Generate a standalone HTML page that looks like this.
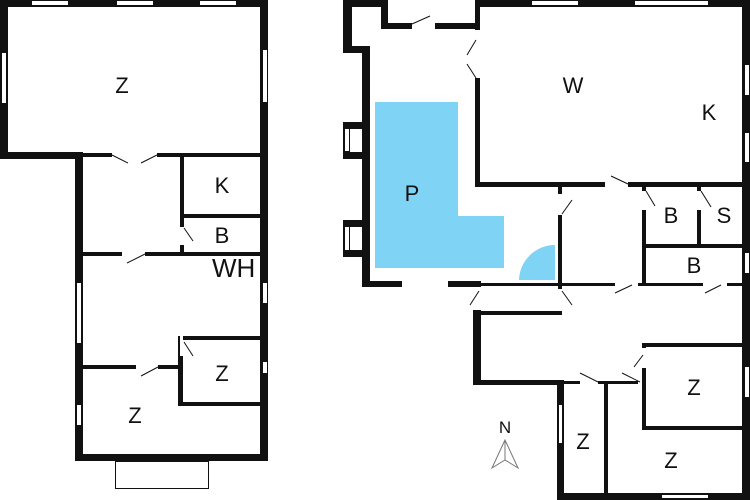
<!DOCTYPE html>
<html><head><style>body{margin:0;background:#fff}svg{display:block}text{font-family:"Liberation Sans",sans-serif;fill:#111}</style></head><body>
<svg width="750" height="500" viewBox="0 0 750 500" xmlns="http://www.w3.org/2000/svg">
<rect width="750" height="500" fill="#fff"/>
<g font-size="26">
<text x="212" y="277">WH</text>
</g>
<g fill="#111">
<!-- LEFT PLAN -->
<rect x="0" y="0" width="268" height="7"/>
<rect x="0" y="0" width="8" height="158"/>
<rect x="0" y="152" width="82" height="7"/>
<rect x="260" y="0" width="8" height="461"/>
<rect x="268" y="0" width="20" height="300" fill="#fff"/>
<rect x="75" y="152" width="8" height="309"/>
<rect x="75" y="454" width="193" height="7"/>
<rect x="82" y="153" width="30" height="4"/><rect x="157" y="153" width="104" height="4"/>
<rect x="180" y="155" width="4" height="72"/><rect x="180" y="245" width="4" height="10"/>
<rect x="183" y="214" width="78" height="4"/>
<rect x="82" y="252" width="40" height="4"/><rect x="145" y="252" width="116" height="4"/>
<rect x="178" y="336" width="5" height="70"/>
<rect x="180" y="336" width="81" height="4"/>
<rect x="180" y="402" width="81" height="4"/>
<rect x="82" y="365" width="54" height="4"/><rect x="158" y="365" width="22" height="4"/>
</g>
<g fill="#fff">
<rect x="32" y="1" width="36" height="4"/><rect x="117" y="1" width="36" height="4"/><rect x="200" y="1" width="36" height="4"/>
<rect x="2" y="53" width="4" height="50"/><rect x="263" y="50" width="4" height="52"/>
<rect x="77" y="283" width="4" height="60"/><rect x="263" y="283" width="4" height="20"/>
<rect x="263" y="362" width="4" height="11"/><rect x="77" y="405" width="4" height="20"/>
<rect x="180" y="336" width="3" height="20"/>
</g>
<g stroke="#111" stroke-width="1" fill="none">
<line x1="112" y1="155" x2="128" y2="163"/><line x1="157" y1="155" x2="141" y2="163"/>
<line x1="184" y1="228" x2="193" y2="241"/><line x1="145" y1="254" x2="127" y2="263"/>
<line x1="184" y1="342" x2="193" y2="356"/><line x1="158" y1="367" x2="141" y2="376"/>
<rect x="115.5" y="461.5" width="93" height="27"/>
</g>
<g font-size="22" text-anchor="middle">
<text x="122" y="93">Z</text><text x="222" y="193">K</text><text x="222" y="243">B</text>
<text x="222" y="381">Z</text><text x="135" y="423">Z</text>
</g>
<!-- RIGHT PLAN -->
<path d="M375 102H458V216H504V268H375Z" fill="#7fd3f5"/>
<path d="M555 280V245A36 36 0 0 0 519 280Z" fill="#7fd3f5"/>
<g fill="#111">
<rect x="343" y="0" width="45" height="7"/>
<rect x="343" y="0" width="9" height="52"/>
<rect x="343" y="46" width="27" height="7"/>
<rect x="362" y="46" width="8" height="241"/>
<rect x="343" y="122" width="27" height="7"/><rect x="343" y="122" width="7" height="36"/><rect x="343" y="152" width="27" height="7"/>
<rect x="343" y="220" width="27" height="7"/><rect x="343" y="220" width="7" height="37"/><rect x="343" y="250" width="27" height="7"/>
<rect x="381" y="0" width="7" height="29"/>
<rect x="381" y="23" width="31" height="6"/><rect x="435" y="23" width="45" height="6"/>
<rect x="475" y="0" width="275" height="7"/>
<rect x="475" y="0" width="5" height="30"/><rect x="475" y="78" width="5" height="108"/>
<rect x="742" y="0" width="8" height="500"/>
<rect x="475" y="182" width="130" height="5"/><rect x="628" y="182" width="115" height="5"/>
<rect x="362" y="281" width="40" height="6"/><rect x="448" y="281" width="33" height="6"/>
<rect x="480" y="283" width="135" height="3"/><rect x="638" y="283" width="65" height="3"/><rect x="727" y="283" width="16" height="3"/>
<rect x="558" y="186" width="4" height="8"/><rect x="558" y="215" width="4" height="73"/>
<rect x="642" y="186" width="4" height="5"/><rect x="642" y="210" width="4" height="76"/>
<rect x="697" y="186" width="4" height="5"/><rect x="697" y="210" width="4" height="37"/>
<rect x="645" y="244" width="98" height="4"/>
<rect x="473" y="310" width="8" height="75"/>
<rect x="481" y="311" width="81" height="4"/>
<rect x="558" y="286" width="4" height="3"/>
<rect x="473" y="380" width="91" height="5"/>
<rect x="557" y="380" width="7" height="120"/>
<rect x="557" y="493" width="193" height="7"/>
<rect x="564" y="381" width="16" height="3"/><rect x="598" y="381" width="40" height="3"/>
<rect x="604" y="381" width="4" height="112"/>
<rect x="642" y="343" width="4" height="5"/><rect x="642" y="368" width="4" height="62"/>
<rect x="642" y="343" width="101" height="4"/><rect x="642" y="426" width="101" height="4"/>
</g>
<g fill="#fff">
<rect x="532" y="1" width="46" height="4"/><rect x="635" y="1" width="73" height="4"/>
<rect x="745" y="65" width="4" height="30"/><rect x="745" y="133" width="4" height="29"/>
<rect x="745" y="253" width="4" height="20"/><rect x="745" y="367" width="4" height="30"/>
<rect x="345" y="129" width="4" height="22"/><rect x="345" y="227" width="4" height="23"/>
<rect x="559" y="405" width="3" height="38"/><rect x="662" y="495" width="46" height="3"/>
<rect x="404" y="283" width="42" height="2"/>
</g>
<g stroke="#111" stroke-width="1" fill="none">
<line x1="412" y1="24" x2="430" y2="16"/>
<line x1="476" y1="40" x2="467" y2="55"/><line x1="476" y1="78" x2="467" y2="64"/>
<line x1="611" y1="176" x2="628" y2="184"/>
<line x1="562" y1="214" x2="572" y2="200"/>
<line x1="646" y1="191" x2="655" y2="206"/><line x1="701" y1="191" x2="711" y2="207"/>
<line x1="632" y1="285" x2="615" y2="293"/><line x1="721" y1="285" x2="705" y2="293"/>
<line x1="479" y1="291" x2="470" y2="305"/><line x1="562" y1="291" x2="572" y2="305"/>
<line x1="580" y1="373" x2="598" y2="382"/><line x1="622" y1="373" x2="640" y2="382"/>
<line x1="643" y1="355" x2="634" y2="367"/>
<path d="M505 440L492 468L505 460L518 468Z" stroke="#777"/><line x1="505" y1="440" x2="505" y2="460" stroke="#777"/>
</g>
<g font-size="22" text-anchor="middle">
<text x="573" y="93">W</text><text x="709" y="120">K</text><text x="412" y="201">P</text>
<text x="671" y="223">B</text><text x="724" y="223">S</text><text x="694" y="273">B</text>
<text x="694" y="395">Z</text><text x="583" y="449">Z</text><text x="671" y="468">Z</text>
<text x="505" y="433" font-size="17">N</text>
</g>
</svg>
</body></html>
